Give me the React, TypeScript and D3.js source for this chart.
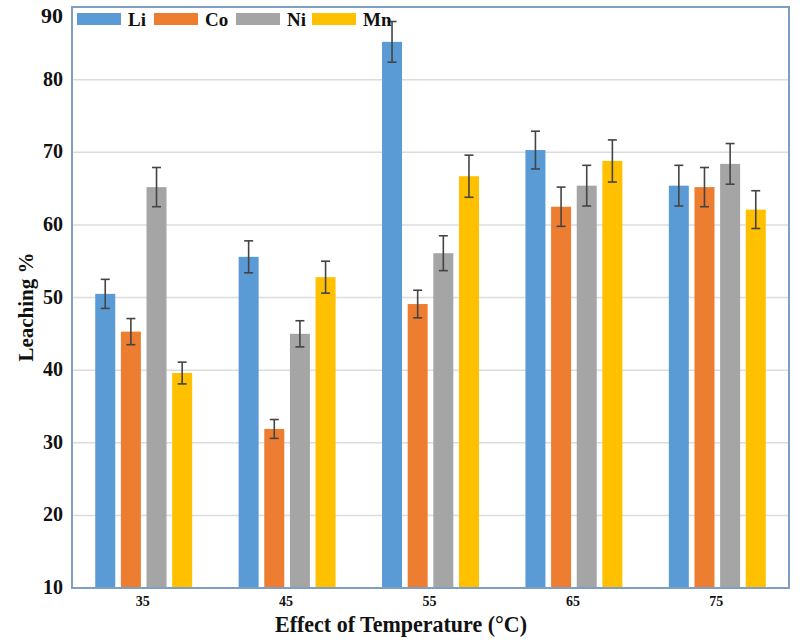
import React from "react";
import * as d3 from "d3";

// Leaching efficiency of each metal at each temperature
const temperatures = ["35", "45", "55", "65", "75"];
const metals = ["Li", "Co", "Ni", "Mn"];
const liValues = [50.5, 55.6, 85.2, 70.3, 65.4];
const coValues = [45.3, 31.9, 49.1, 62.5, 65.2];
const niValues = [65.2, 45.0, 56.1, 65.4, 68.4];
const mnValues = [39.6, 52.8, 66.7, 68.8, 62.1];
const liErrors = [2.0, 2.2, 2.8, 2.6, 2.8];
const coErrors = [1.8, 1.3, 1.9, 2.7, 2.7];
const niErrors = [2.7, 1.8, 2.4, 2.8, 2.8];
const mnErrors = [1.5, 2.2, 2.9, 2.9, 2.6];
const yTicks = [10, 20, 30, 40, 50, 60, 70, 80, 90];

const colors: Record<string, string> = {
  Li: "#5b9bd5",
  Co: "#ed7d31",
  Ni: "#a5a5a5",
  Mn: "#ffc000",
};

const seriesValues: Record<string, number[]> = {
  Li: liValues,
  Co: coValues,
  Ni: niValues,
  Mn: mnValues,
};
const seriesErrors: Record<string, number[]> = {
  Li: liErrors,
  Co: coErrors,
  Ni: niErrors,
  Mn: mnErrors,
};

const W = 800;
const H = 641;
const left = 72;
const right = 789;
const top = 7;
const bottom = 588;
const font = "'Liberation Serif', 'Times New Roman', serif";

export default function App() {
  const x0 = d3
    .scaleBand<string>()
    .domain(temperatures)
    .range([left, right])
    .paddingInner(0.324)
    .paddingOuter(0.162);
  const x1 = d3
    .scaleBand<string>()
    .domain(metals)
    .range([0, x0.bandwidth()])
    .paddingInner(0.22);
  const y = d3.scaleLinear().domain([10, 90]).range([bottom, top]);

  const legendItems = [
    { key: "Li", x: 77, tx: 128 },
    { key: "Co", x: 154, tx: 205 },
    { key: "Ni", x: 236, tx: 287 },
    { key: "Mn", x: 312, tx: 363 },
  ];

  return (
    <svg
      width={W}
      height={H}
      style={{ position: "absolute", left: 0, top: 0, background: "#fff" }}
    >
      {/* gridlines */}
      {yTicks.slice(1, -1).map((t) => (
        <line
          key={t}
          x1={left}
          x2={right}
          y1={y(t)}
          y2={y(t)}
          stroke="#dcdcdc"
          strokeWidth={1.5}
        />
      ))}

      {/* bars with error bars */}
      {temperatures.map((temp, i) => (
        <g key={temp} transform={`translate(${x0(temp)},0)`}>
          {metals.map((m) => {
            const v = seriesValues[m][i];
            const e = seriesErrors[m][i];
            const bx = x1(m)!;
            const bw = x1.bandwidth();
            const cx = bx + bw / 2;
            return (
              <g key={m}>
                <rect
                  x={bx}
                  y={y(v)}
                  width={bw}
                  height={y(10) - y(v)}
                  fill={colors[m]}
                />
                <line
                  x1={cx}
                  x2={cx}
                  y1={y(v + e)}
                  y2={y(v - e)}
                  stroke="#444"
                  strokeWidth={1.6}
                />
                <line
                  x1={cx - 4.5}
                  x2={cx + 4.5}
                  y1={y(v + e)}
                  y2={y(v + e)}
                  stroke="#444"
                  strokeWidth={1.6}
                />
                <line
                  x1={cx - 4.5}
                  x2={cx + 4.5}
                  y1={y(v - e)}
                  y2={y(v - e)}
                  stroke="#444"
                  strokeWidth={1.6}
                />
              </g>
            );
          })}
        </g>
      ))}

      {/* frame */}
      <rect
        x={left}
        y={top}
        width={right - left}
        height={bottom - top}
        fill="none"
        stroke="#7f9fc2"
        strokeWidth={2}
      />

      {/* y tick labels */}
      {yTicks.map((t) => (
        <text
          key={t}
          x={63}
          y={t === 90 ? y(t) + 8 : y(t) - 1}
          dy="0.35em"
          textAnchor="end"
          fontFamily={font}
          fontWeight="bold"
          fontSize={t === 90 ? 22 : 20}
          fill="#111"
        >
          {t}
        </text>
      ))}

      {/* x tick labels */}
      {temperatures.map((t) => (
        <text
          key={t}
          x={x0(t)! + x0.bandwidth() / 2 - 1}
          y={606}
          textAnchor="middle"
          fontFamily={font}
          fontWeight="bold"
          fontSize={14}
          fill="#111"
        >
          {t}
        </text>
      ))}

      {/* axis titles */}
      <text
        x={275}
        y={632}
        textLength={252}
        lengthAdjust="spacingAndGlyphs"
        fontFamily={font}
        fontWeight="bold"
        fontSize={24}
        fill="#111"
      >
        Effect of Temperature (°C)
      </text>
      <text
        transform="translate(33,307) rotate(-90)"
        textAnchor="middle"
        fontFamily={font}
        fontWeight="bold"
        fontSize={21}
        fill="#111"
      >
        Leaching %
      </text>

      {/* legend */}
      {legendItems.map((it) => (
        <g key={it.key}>
          <rect x={it.x} y={13} width={44} height={12} fill={colors[it.key]} />
          <text
            x={it.tx}
            y={26}
            fontFamily={font}
            fontWeight="bold"
            fontSize={19}
            fill="#111"
          >
            {it.key}
          </text>
        </g>
      ))}
    </svg>
  );
}
